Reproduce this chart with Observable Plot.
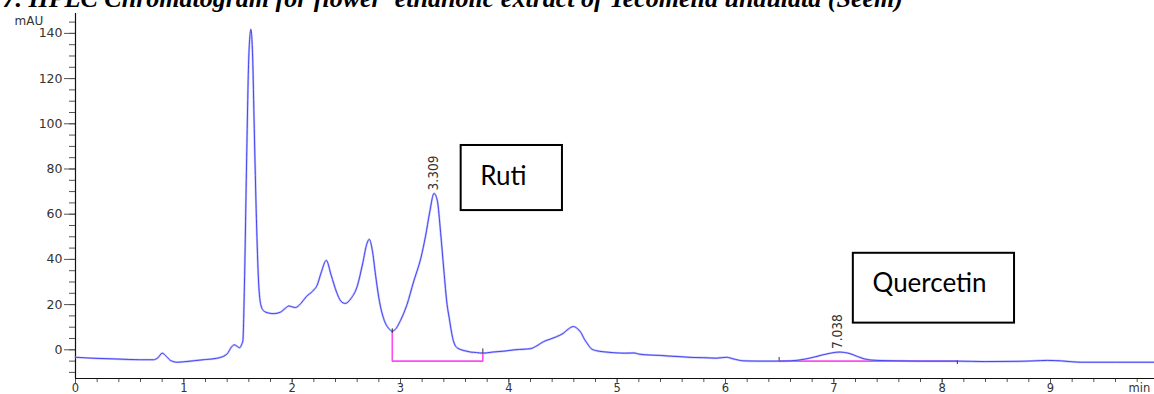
<!DOCTYPE html>
<html><head><meta charset="utf-8">
<script src="https://cdn.jsdelivr.net/npm/d3@7"></script>
<script src="https://cdn.jsdelivr.net/npm/@observablehq/plot@0.6"></script>
<style>body{margin:0;background:#fff;overflow:hidden}</style>
</head><body><div id="chart"></div>
<script>
// ---- text ----
const titleText = "7. HPLC Chromatogram for flower  ethanolic extract of Tecomella undulata (Seem)";
const yUnit = "mAU";
const xUnit = "min";

// ---- chromatogram trace (retention time, min / absorbance, mAU) ----
const time = [0.00,0.20,0.40,0.60,0.72,0.76,0.80,0.84,0.88,0.94,1.00,1.10,1.20,1.30,1.36,1.40,1.44,1.465,1.49,1.515,1.535,1.545,1.56,1.58,1.60,1.619,1.635,1.65,1.67,1.69,1.71,1.735,1.78,1.83,1.89,1.94,1.97,2.00,2.03,2.08,2.13,2.19,2.23,2.27,2.315,2.36,2.41,2.45,2.49,2.54,2.60,2.65,2.69,2.712,2.74,2.77,2.80,2.85,2.89,2.924,2.96,3.00,3.06,3.12,3.19,3.23,3.27,3.309,3.34,3.37,3.40,3.43,3.45,3.48,3.51,3.55,3.60,3.647,3.70,3.76,3.85,3.955,4.05,4.15,4.20,4.26,4.32,4.386,4.44,4.50,4.55,4.595,4.63,4.663,4.70,4.725,4.76,4.80,4.88,4.97,5.07,5.155,5.20,5.30,5.40,5.49,5.60,5.70,5.80,5.92,6.01,6.07,6.17,6.30,6.49,6.60,6.725,6.82,6.91,6.98,7.048,7.10,7.156,7.22,7.28,7.34,7.40,7.60,7.80,8.14,8.40,8.70,8.85,8.97,9.10,9.20,9.28,9.60,9.96];
const absorbance = [-3.3,-3.8,-4.1,-4.4,-4.4,-3.6,-1.5,-3.0,-4.8,-5.5,-5.3,-4.8,-4.3,-3.8,-3.0,-1.8,1.2,2.2,1.6,0.9,2.5,4,30,85,130,141.8,130,98,58,30,20,17.3,16.3,16.0,16.6,18.5,19.4,19.0,18.7,20.5,23.5,26.0,28.5,34.5,39.6,33,25.5,21.5,20.5,22.5,28,38,47,48.9,44,33,23,13,9.5,8.3,9.5,13,20,30,41,50,61,69.2,66,52,35.3,20,14,5.5,1.5,0.2,-0.5,-1.0,-1.2,-1.5,-1.0,-0.6,0,0.3,0.5,1.8,3.6,4.8,5.8,7.2,9.2,10.3,9.5,7.8,4.5,2.7,0.5,-0.3,-0.9,-1.3,-1.5,-1.4,-1.9,-2.3,-2.5,-2.8,-3.1,-3.4,-3.5,-3.7,-3.3,-4.0,-4.9,-5.0,-5.0,-4.9,-4.2,-3.2,-2.1,-1.4,-1.0,-1.2,-1.8,-3.0,-4.0,-4.5,-4.7,-4.9,-5.0,-5.0,-5.2,-5.1,-4.9,-4.7,-4.9,-5.3,-5.5,-5.5,-5.5];

// ---- peak labels ----
const peakTimes = [3.309, 7.038];
const peakHeights = [69.2, -1.0];
const peakLabels = ["3.309", "7.038"];

// ---- integration baselines ----
const integrationId = ["a", "a", "a", "a", "b", "b"];
const integrationTimes = [2.924, 2.924, 3.76, 3.76, 6.495, 8.14];
const integrationLevels = [8.3, -5.0, -5.0, -1.5, -5.0, -5.0];
const markerTimes = [2.924, 3.76, 6.495, 8.14];
const markerLow = [7.3, -1.6, -5.0, -6.5];
const markerHigh = [9.3, 0.4, -3.4, -5.0];

// ---- annotation boxes ----
const boxLabels = ["Ruti", "Quercetin"];
const boxX1 = [3.56, 7.18];
const boxX2 = [4.495, 8.668];
const boxY1 = [61.6, 11.8];
const boxY2 = [90.4, 42.7];
const boxTextX = [3.735, 7.357];
const boxTextY = [76.8, 29.2];

// ---- axes ----
const xDomain = [0, 9.96];
const yDomain = [-12.7, 148.8];
const xMajorTicks = [0, 1, 2, 3, 4, 5, 6, 7, 8, 9];
const xMinorTicks = d3.range(0, 99, 2).map(d => d / 10);
const yMajorTicks = [0, 20, 40, 60, 80, 100, 120, 140];
const yMinorTicks = d3.range(-10, 150, 5);

const axisFont = "DejaVu Sans";
const chart = Plot.plot({
  width: 1154,
  height: 394,
  marginLeft: 75,
  marginRight: 0,
  marginTop: 13,
  marginBottom: 16,
  style: {background: "white", fontFamily: axisFont, fontSize: "12.5px", color: "#333"},
  x: {domain: xDomain, label: null},
  y: {domain: yDomain, label: null},
  marks: [
    Plot.axisY(yMinorTicks, {tickSize: 6, text: null, label: null, stroke: "#555"}),
    Plot.axisY(yMajorTicks, {tickSize: 11, tickPadding: 2, label: null, stroke: "#555", letterSpacing: 1}),
    Plot.axisX(xMinorTicks, {tickSize: 4, text: null, label: null, stroke: "#555"}),
    Plot.axisX(xMajorTicks, {tickSize: 6, text: null, label: null, stroke: "#555"}),
    Plot.axisX(xMajorTicks, {tickSize: 0, tickPadding: 5, label: null, fontSize: 11.5}),
    Plot.ruleX([xDomain[0]], {stroke: "#111", strokeWidth: 1.2}),
    Plot.ruleY([yDomain[0]], {stroke: "#111", strokeWidth: 1.2}),
    Plot.line(integrationTimes, {x: integrationTimes, y: integrationLevels, z: integrationId, stroke: "#ff4cf0", strokeWidth: 1.6}),
    Plot.line(time, {x: time, y: absorbance, curve: "monotone-x", stroke: "#9a9aff", strokeWidth: 2.2, strokeOpacity: 0.6}),
    Plot.line(time, {x: time, y: absorbance, curve: "monotone-x", stroke: "#4646f0", strokeWidth: 1}),
    Plot.ruleX(markerTimes, {x: markerTimes, y1: markerLow, y2: markerHigh, stroke: "#333", strokeWidth: 1}),
    Plot.text(peakLabels, {x: peakTimes, y: peakHeights, text: peakLabels, rotate: -90, textAnchor: "start", lineAnchor: "middle", dy: -3, fontFamily: "Liberation Sans Narrow, DejaVu Sans Condensed, Liberation Sans", fontSize: 13.5, fill: "#333"}),
    Plot.rect(boxLabels, {x1: boxX1, x2: boxX2, y1: boxY1, y2: boxY2, fill: "white", stroke: "#000", strokeWidth: 2}),
    Plot.text(boxLabels, {x: boxTextX, y: boxTextY, text: boxLabels, textAnchor: "start", lineAnchor: "middle", fontFamily: "Lato", fontSize: 26, fill: "#000"}),
    Plot.text([titleText], {frameAnchor: "top-left", text: d => d, dx: -73, dy: -14.8, textAnchor: "start", lineAnchor: "middle", fontFamily: "Liberation Serif", fontStyle: "italic", fontWeight: "bold", fontSize: 26, fill: "#000"}),
    Plot.text([yUnit], {frameAnchor: "top-left", text: d => d, dx: -61, dy: 7.2, textAnchor: "start", lineAnchor: "middle", letterSpacing: 1, fontSize: 12, fill: "#333"}),
    Plot.text([xUnit], {frameAnchor: "bottom-right", text: d => d, dx: -26, dy: 5, textAnchor: "start", lineAnchor: "top", fontSize: 11.5, fill: "#333"})
  ]
});
document.getElementById("chart").append(chart);
</script>
</body></html>
